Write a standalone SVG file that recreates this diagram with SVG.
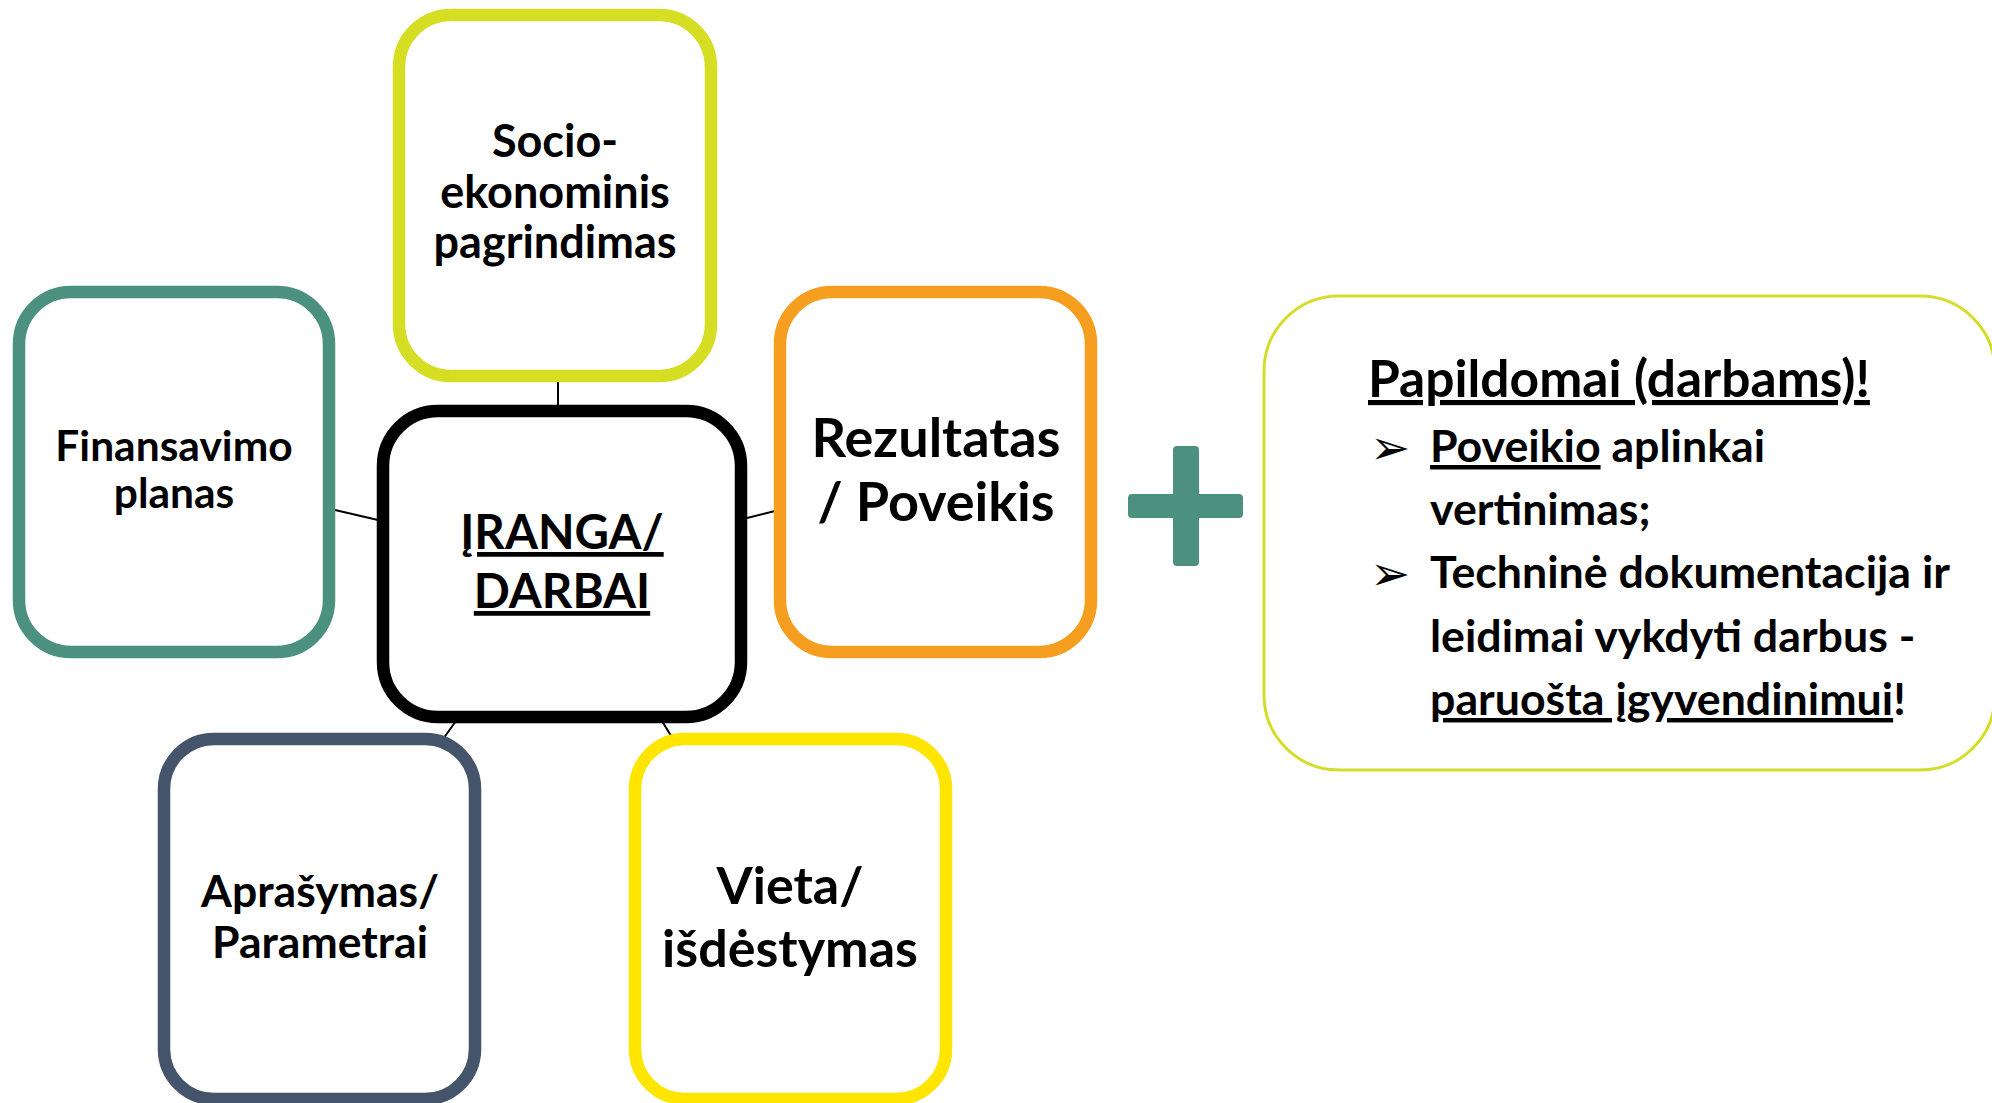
<svg xmlns="http://www.w3.org/2000/svg" width="1992" height="1103" viewBox="0 0 1992 1103">
<style>
.box{fill:#fff;stroke-width:12.5}
.t{font-family:Lato,"Open Sans","Liberation Sans",sans-serif;font-weight:bold;fill:#000;text-anchor:middle}
.u{text-decoration:underline}
.rt{font-family:Lato,"Open Sans","Liberation Sans",sans-serif;font-weight:bold;fill:#000}
.bul{font-family:"DejaVu Sans",sans-serif;fill:#000}
.conn{stroke:#000;stroke-width:2;fill:none}
</style>
<rect width="1992" height="1103" fill="#fff"/>
<g id="connectors">
<line class="conn" x1="558" y1="382" x2="558" y2="406"/>
<line class="conn" x1="335" y1="510" x2="378" y2="520"/>
<line class="conn" x1="747" y1="518" x2="775" y2="511"/>
<line class="conn" x1="456" y1="721" x2="443" y2="739"/>
<line class="conn" x1="662" y1="721" x2="673" y2="739"/>
</g>
<g id="socio">
<rect class="box" x="399" y="15" width="312" height="361" rx="52" stroke="#D6DE23"/>
<text class="t" font-size="45"><tspan x="555" y="157">Socio-</tspan><tspan x="555" y="208">ekonominis</tspan><tspan x="555" y="258">pagrindimas</tspan></text>
</g>
<g id="finansavimo">
<rect class="box" x="19" y="292" width="310" height="360" rx="52" stroke="#4C9180"/>
<text class="t" font-size="42.5"><tspan x="174" y="461">Finansavimo</tspan><tspan x="174" y="508">planas</tspan></text>
</g>
<g id="iranga">
<rect class="box" x="383" y="411" width="358" height="306" rx="55" stroke="#000"/>
<text class="t u" font-size="47.5"><tspan x="562" y="549">ĮRANGA/</tspan><tspan x="562" y="608">DARBAI</tspan></text>
</g>
<g id="rezultatas">
<rect class="box" x="780" y="292" width="311" height="360" rx="52" stroke="#F59E1F"/>
<text class="t" font-size="54"><tspan x="936" y="457">Rezultatas</tspan><tspan x="936" y="521">/ Poveikis</tspan></text>
</g>
<g id="aprasymas">
<rect class="box" x="164" y="739" width="311" height="360" rx="50" stroke="#44546A"/>
<text class="t" font-size="44.5"><tspan x="320" y="907">Aprašymas/</tspan><tspan x="320" y="958">Parametrai</tspan></text>
</g>
<g id="vieta">
<rect class="box" x="635" y="739" width="311" height="360" rx="50" stroke="#FFE500"/>
<text class="t" font-size="52"><tspan x="790" y="904">Vieta/</tspan><tspan x="790" y="967">išdėstymas</tspan></text>
</g>
<g id="plus" fill="#4C9180">
<rect x="1173" y="446" width="26" height="120" rx="4"/>
<rect x="1128" y="494" width="115" height="24" rx="4"/>
</g>
<g id="papildomai">
<rect x="1264" y="296" width="731" height="474" rx="75" fill="#fff" stroke="#D4DE2A" stroke-width="3"/>
<text class="rt u" font-size="51.5" x="1368" y="397">Papildomai (darbams)!</text>
<text class="bul" font-size="48" x="1370" y="464">➢</text>
<text class="rt" font-size="44.7" x="1430" y="462"><tspan class="u">Poveikio</tspan> aplinkai</text>
<text class="rt" font-size="44.7" x="1430" y="525">vertinimas;</text>
<text class="bul" font-size="48" x="1370" y="590">➢</text>
<text class="rt" font-size="44.7" x="1430" y="588">Techninė dokumentacija ir</text>
<text class="rt" font-size="44.7" x="1430" y="652">leidimai vykdyti darbus -</text>
<text class="rt" font-size="44.7" x="1430" y="715"><tspan class="u">paruošta įgyvendinimui</tspan>!</text>
</g>
</svg>
